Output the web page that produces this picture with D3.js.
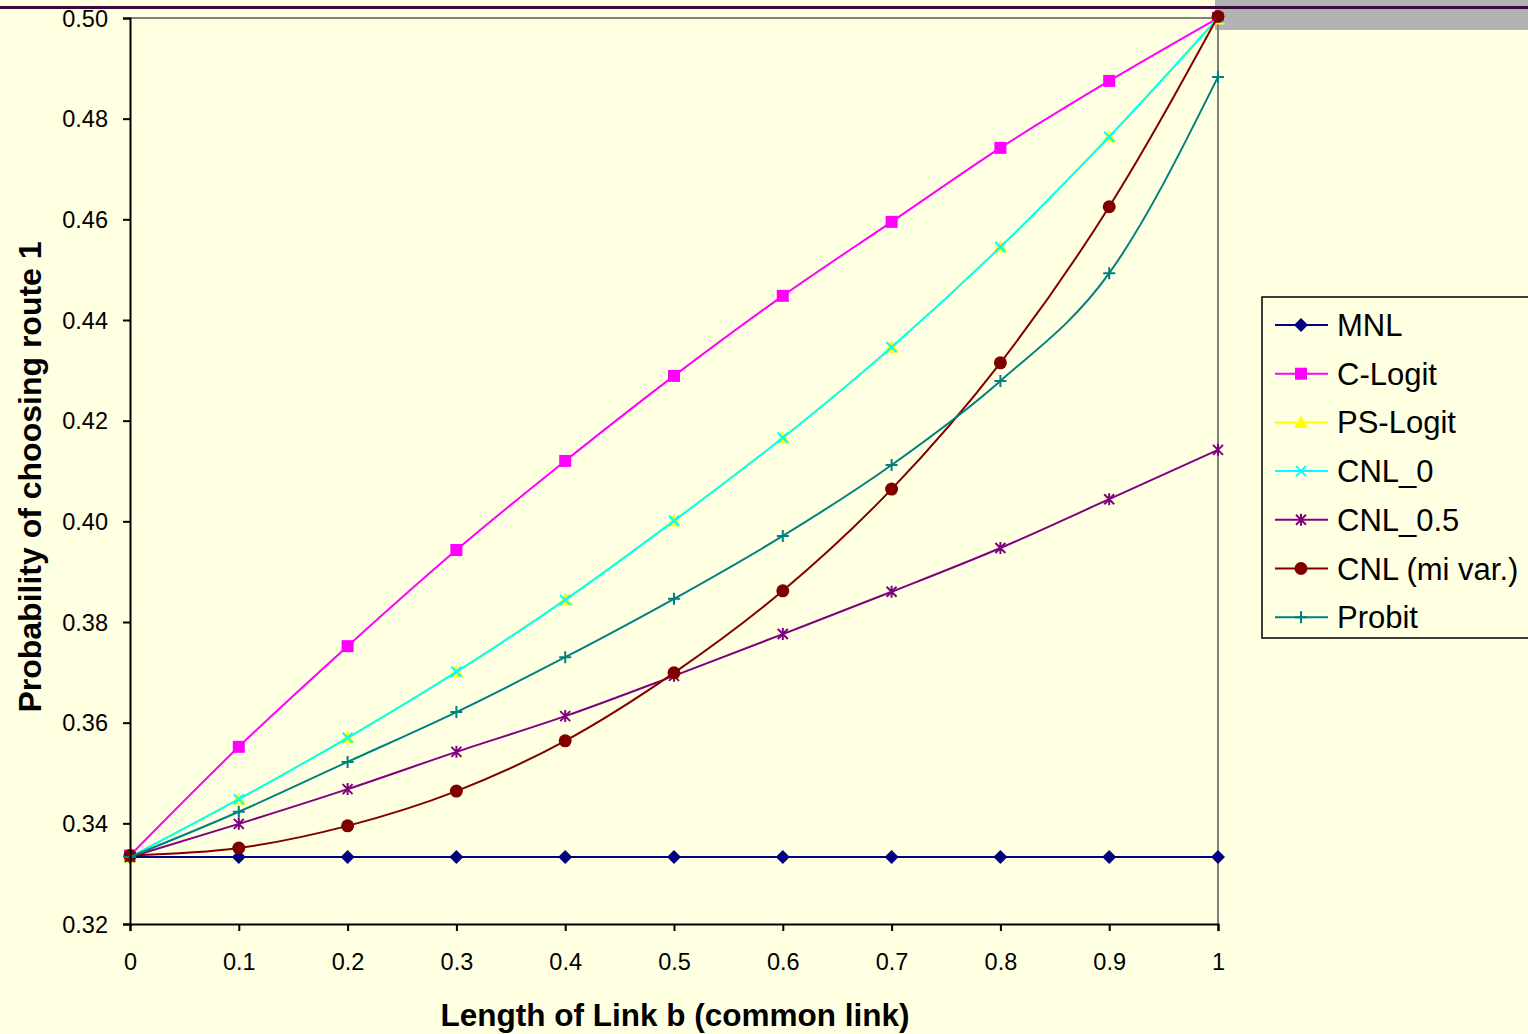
<!DOCTYPE html>
<html lang="en">
<head>
  <meta charset="UTF-8">
  <title>Route choice</title>
  <style>
    body, html {
      margin: 0;
      padding: 0;
      background-color: #ffffe1;
      overflow: hidden;
    }
    text {
      font-family: Arial, 'Liberation Sans', sans-serif;
    }
  </style>
</head>
<body>
  <svg id="svg" width="1528" height="1034"></svg>
  <script src="https://d3js.org/d3.v7.min.js"></script>
  <script>
    const xValues = [0, 0.1, 0.2, 0.3, 0.4, 0.5, 0.6, 0.7, 0.8, 0.9, 1]
    const xTicks = ['0', '0.1', '0.2', '0.3', '0.4', '0.5', '0.6', '0.7', '0.8', '0.9', '1']
    const yTicks = [0.32, 0.34, 0.36, 0.38, 0.40, 0.42, 0.44, 0.46, 0.48, 0.50]

    const seriesNames = ['MNL', 'C-Logit', 'PS-Logit', 'CNL_0', 'CNL_0.5', 'CNL (mi var.)', 'Probit']
    const mnl = [0.3333, 0.3333, 0.3333, 0.3333, 0.3333, 0.3333, 0.3333, 0.3333, 0.3333, 0.3333, 0.3333]
    const cLogit = [0.3336, 0.3552, 0.3752, 0.3943, 0.4120, 0.4289, 0.4448, 0.4595, 0.4742, 0.4875, 0.5000]
    const psLogit = [0.3333, 0.3448, 0.3570, 0.3701, 0.3844, 0.4001, 0.4166, 0.4346, 0.4545, 0.4764, 0.4998]
    const cnl0 = [0.3333, 0.3448, 0.3570, 0.3701, 0.3844, 0.4001, 0.4166, 0.4346, 0.4545, 0.4764, 0.5000]
    const cnl05 = [0.3333, 0.3399, 0.3468, 0.3542, 0.3613, 0.3693, 0.3776, 0.3860, 0.3947, 0.4044, 0.4142]
    const cnlMiVar = [0.3336, 0.3351, 0.3395, 0.3464, 0.3564, 0.3699, 0.3862, 0.4064, 0.4315, 0.4625, 0.5003]
    const probit = [0.3333, 0.3423, 0.3522, 0.3621, 0.3730, 0.3846, 0.3971, 0.4112, 0.4279, 0.4493, 0.4883]

    const allSeries = [mnl, cLogit, psLogit, cnl0, cnl05, cnlMiVar, probit]
    const colors = ['#000080', '#ff00ff', '#ffff00', '#00ffff', '#800080', '#800000', '#008080']
    const shapes = ['diamond', 'square', 'triangle', 'x', 'star', 'circle', 'plus']

    const svg = d3.select('#svg')
    const plotLeft = 130, plotRight = 1218, plotTop = 18, plotBottom = 924

    const xScale = d3.scaleLinear().domain([0, 1]).range([plotLeft, plotRight])
    const yScale = d3.scaleLinear().domain([0.32, 0.50]).range([plotBottom, plotTop])

    // header decoration
    svg.append('rect').attr('x', 1215).attr('y', 0).attr('width', 313).attr('height', 30).attr('fill', '#b2b2b2')
    svg.append('rect').attr('x', 0).attr('y', 6).attr('width', 1528).attr('height', 3).attr('fill', '#3a0a3a')

    // plot frame (top/right grey)
    svg.append('line').attr('x1', plotLeft).attr('x2', plotRight).attr('y1', plotTop).attr('y2', plotTop)
      .attr('stroke', '#808080').attr('stroke-width', 2)
    svg.append('line').attr('x1', plotRight).attr('x2', plotRight).attr('y1', plotTop).attr('y2', plotBottom)
      .attr('stroke', '#808080').attr('stroke-width', 2)

    function drawMarker(g, shape, color, cx, cy) {
      if (shape === 'diamond') {
        g.append('path').attr('d', `M${cx},${cy - 7}L${cx + 7},${cy}L${cx},${cy + 7}L${cx - 7},${cy}Z`).attr('fill', color)
      } else if (shape === 'square') {
        g.append('rect').attr('x', cx - 6).attr('y', cy - 6).attr('width', 12).attr('height', 12).attr('fill', color)
      } else if (shape === 'triangle') {
        g.append('path').attr('d', `M${cx},${cy - 7}L${cx + 7},${cy + 5.5}L${cx - 7},${cy + 5.5}Z`).attr('fill', color)
      } else if (shape === 'x') {
        g.append('path').attr('d', `M${cx - 5},${cy - 5}L${cx + 5},${cy + 5}M${cx - 5},${cy + 5}L${cx + 5},${cy - 5}`)
          .attr('stroke', color).attr('stroke-width', 2)
      } else if (shape === 'star') {
        g.append('path').attr('d', `M${cx - 5},${cy - 5}L${cx + 5},${cy + 5}M${cx - 5},${cy + 5}L${cx + 5},${cy - 5}M${cx},${cy - 6}L${cx},${cy + 6}`)
          .attr('stroke', color).attr('stroke-width', 2)
      } else if (shape === 'circle') {
        g.append('circle').attr('cx', cx).attr('cy', cy).attr('r', 6.5).attr('fill', color)
      } else if (shape === 'plus') {
        g.append('path').attr('d', `M${cx - 6},${cy}L${cx + 6},${cy}M${cx},${cy - 6}L${cx},${cy + 6}`)
          .attr('stroke', color).attr('stroke-width', 2)
      }
    }

    const line = d3.line()
      .x((d, i) => xScale(xValues[i]))
      .y(d => yScale(d))
      .curve(d3.curveMonotoneX)

    allSeries.forEach((values, k) => {
      const g = svg.append('g')
      g.append('path')
        .datum(values)
        .attr('d', line)
        .attr('fill', 'none')
        .attr('stroke', colors[k])
        .attr('stroke-width', 2)
      values.forEach((v, i) => drawMarker(g, shapes[k], colors[k], xScale(xValues[i]), yScale(v)))
    })

    // axes
    const leftAxis = d3.axisLeft(yScale).tickValues(yTicks).tickFormat(d3.format('.2f')).tickSize(7).tickPadding(15)
    const bottomAxis = d3.axisBottom(xScale).tickValues(xValues).tickFormat((d, i) => xTicks[i]).tickSize(7).tickPadding(22)

    const ya = svg.append('g').attr('transform', `translate(${plotLeft}, 0)`).call(leftAxis)
    const xa = svg.append('g').attr('transform', `translate(0, ${plotBottom})`).call(bottomAxis)
    ;[ya, xa].forEach(a => {
      a.select('.domain').attr('stroke', '#000').attr('stroke-width', 2)
      a.selectAll('.tick line').attr('stroke', '#000').attr('stroke-width', 2)
      a.selectAll('.tick text').style('font-size', '23.5px').attr('fill', '#000')
        .style('font-family', 'Arial, "Liberation Sans", sans-serif')
    })
    ya.selectAll('.tick text').attr('dy', '0.35em')

    // titles
    svg.append('text')
      .attr('transform', `translate(41, 477) rotate(-90)`)
      .attr('text-anchor', 'middle')
      .style('font-size', '32px').style('font-weight', 'bold')
      .text('Probability of choosing route 1')
    svg.append('text')
      .attr('x', 675).attr('y', 1026)
      .attr('text-anchor', 'middle')
      .style('font-size', '31.5px').style('font-weight', 'bold')
      .text('Length of Link b (common link)')

    // legend
    const legend = svg.append('g')
    legend.append('rect').attr('x', 1262).attr('y', 297).attr('width', 280).attr('height', 341)
      .attr('fill', '#ffffe1').attr('stroke', '#000').attr('stroke-width', 1.5)
    seriesNames.forEach((name, k) => {
      const cy = 325 + k * 48.7
      legend.append('line').attr('x1', 1275).attr('x2', 1328).attr('y1', cy).attr('y2', cy)
        .attr('stroke', colors[k]).attr('stroke-width', 2)
      drawMarker(legend, shapes[k], colors[k], 1301, cy)
      legend.append('text').attr('x', 1337).attr('y', cy + 11)
        .style('font-size', '31px').text(name)
    })
  </script>
</body>
</html>
